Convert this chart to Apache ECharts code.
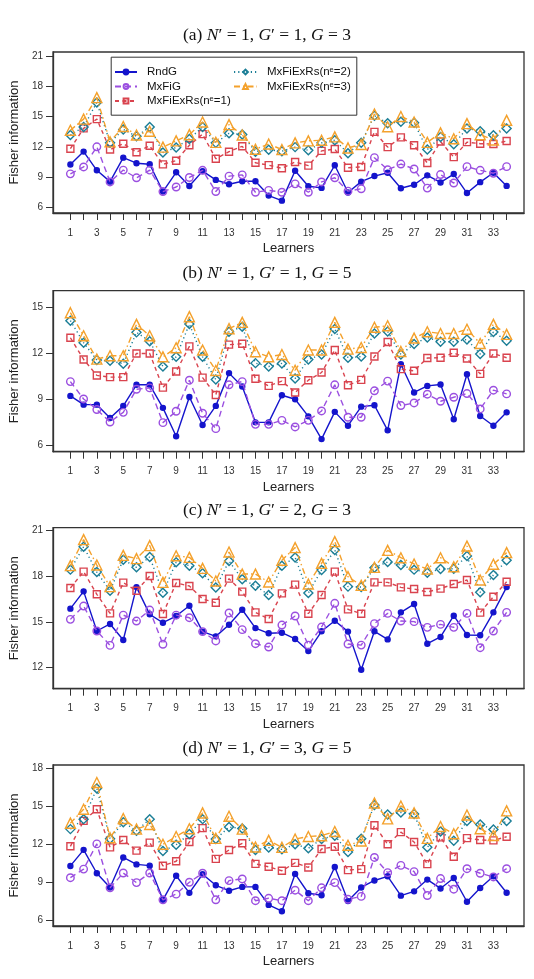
<!DOCTYPE html>
<html lang="en">
<head>
    <meta charset="UTF-8">
    <title>Fisher information of learners</title>
    <script src="https://cdn.jsdelivr.net/npm/echarts@6/dist/echarts.min.js"></script>
</head>
<body style="margin:0;background:#fff;">
<div id="mybox" style="height: 979px;width: 534px;"></div>
<script>
    // learners on the x axis, ticks every learner, labels on odd ones
    var learners = [1,2,3,4,5,6,7,8,9,10,11,12,13,14,15,16,17,18,19,20,21,22,23,24,25,26,27,28,29,30,31,32,33,34];
    var xTickLabels = [1,3,5,7,9,11,13,15,17,19,21,23,25,27,29,31,33];

    // (a) N'=1, G'=1, G=3
    var rndgA  = [10.28,11.55,9.7,8.58,10.95,10.4,10.3,7.6,9.5,8.15,9.62,8.75,8.32,8.62,8.62,7.2,6.7,9.65,8.12,7.96,10.2,7.5,8.58,9.13,9.46,7.93,8.27,9.2,8.5,9.33,7.45,8.53,9.46,8.16];
    var mxfigA = [9.35,10.03,12.02,8.55,9.72,8.96,9.72,7.6,8.05,8.99,9.7,7.6,9.12,9.25,7.53,7.72,7.53,8.36,7.53,8.55,8.96,7.64,7.87,10.95,9.75,10.32,9.83,7.94,9.28,8.44,10.06,9.7,9.41,10.06];
    var rs1A   = [11.83,13.84,14.76,11.75,12.33,11.49,12.12,10.29,10.65,12.17,13.27,10.84,11.54,12.07,10.44,10.21,9.9,10.52,10.16,11.62,11.8,9.95,10.03,13.5,11.99,12.95,12.17,10.42,12.54,11.0,12.48,12.33,12.3,12.59];
    var rs2A   = [13.19,13.98,16.41,12.43,13.74,13.06,13.98,11.46,11.96,12.8,13.98,12.41,13.35,13.24,11.54,11.73,11.59,11.99,11.67,12.41,12.67,11.39,12.43,15.1,14.34,14.5,14.39,11.75,13.0,12.27,13.84,13.56,13.16,13.84];
    var rs3A   = [13.66,14.76,16.88,12.51,14.03,13.19,13.56,11.99,12.61,13.22,14.47,12.46,14.21,13.19,11.78,12.3,11.75,12.41,12.61,12.67,13.0,11.91,12.25,15.25,14.0,15.02,14.47,12.46,13.4,12.82,14.31,13.22,12.69,14.63];

    // (b) N'=1, G'=1, G=5
    var rndgB  = [9.24,8.67,8.67,7.8,8.59,9.96,9.96,8.46,6.61,9.17,7.35,8.59,10.72,9.85,7.52,7.52,9.28,9.02,7.91,6.43,8.2,7.3,8.54,8.63,7.0,11.3,9.46,9.89,9.98,7.72,10.65,7.93,7.3,8.17];
    var mxfigB = [10.17,9.04,8.35,7.54,8.17,9.67,9.76,7.5,8.24,10.26,8.11,7.11,9.96,10.17,7.39,7.39,7.65,7.22,7.65,8.26,9.96,7.85,7.85,9.57,10.2,8.61,8.78,9.35,8.89,9.15,9.39,8.39,9.61,9.37];
    var rs1B   = [13.02,11.61,10.57,10.46,10.46,12.0,12.0,9.78,10.83,12.46,10.43,9.3,12.57,12.63,10.35,9.89,10.2,9.46,10.26,10.76,12.22,9.93,10.28,11.8,12.74,10.98,10.87,11.7,11.72,12.04,11.67,10.67,12.0,11.72];
    var rs2B   = [14.13,12.7,11.57,11.52,11.33,13.37,12.8,11.15,11.78,13.91,11.78,10.3,13.41,13.74,11.37,11.15,11.35,10.37,11.61,11.93,13.59,11.72,11.8,13.3,13.43,11.93,12.61,13.04,12.76,12.76,12.91,11.96,13.39,12.83];
    var rs3B   = [14.65,13.15,11.63,11.85,11.85,13.89,13.15,11.78,12.37,14.39,12.22,10.89,13.61,14.02,12.11,11.78,11.93,10.91,12.22,12.22,14.02,12.28,12.39,13.7,13.8,12.13,13.0,13.41,13.3,13.3,13.57,12.65,13.89,13.24];

    // (c) N'=1, G'=2, G=3
    var rndgC  = [15.86,16.99,14.4,14.86,13.81,17.27,15.49,14.94,15.38,16.05,14.36,14.05,14.81,15.79,14.59,14.25,14.29,13.88,13.09,14.38,15.07,14.36,11.87,14.38,13.85,15.62,16.16,13.57,14.01,15.4,14.14,14.12,15.62,17.27];
    var mxfigC = [15.16,16.03,14.4,13.46,15.44,15.05,15.77,13.53,15.44,15.27,14.36,13.75,15.58,14.49,13.57,13.35,14.79,15.38,13.48,14.66,16.21,13.55,13.48,14.88,15.55,15.05,15.01,14.64,14.83,14.64,15.55,13.31,14.4,15.62];
    var rs1C   = [17.21,18.28,16.8,15.55,17.56,17.03,17.99,15.51,17.54,17.34,16.49,16.25,17.82,16.97,15.62,15.18,16.86,17.43,15.53,16.75,18.28,15.81,15.53,17.58,17.58,17.25,17.14,16.95,17.17,17.47,17.73,15.6,16.64,17.62];
    var rs2C   = [18.41,19.91,18.25,17.03,19.06,18.56,19.24,16.9,18.89,18.67,18.17,17.25,18.97,17.78,17.36,16.75,18.67,19.21,16.88,18.39,19.69,17.3,17.27,18.54,18.91,18.71,18.41,18.21,18.45,18.47,19.3,16.93,18.06,19.02];
    var rs3C   = [18.67,20.37,18.71,17.3,19.34,19.13,19.98,17.58,19.32,19.21,18.49,17.67,19.56,18.12,18.12,17.6,19.02,19.85,17.47,18.82,20.24,17.95,17.38,18.56,19.67,19.19,18.78,18.45,19.19,18.6,19.95,17.73,18.76,19.52];

    // (d) N'=1, G'=3, G=5 (same curves as (a))
    var rndgD  = rndgA.slice();
    var mxfigD = mxfigA.slice();
    var rs1D   = rs1A.slice();
    var rs2D   = rs2A.slice();
    var rs3D   = rs3A.slice();

    // y tick labels of each panel
    var yTicksA = [6,9,12,15,18,21];
    var yTicksB = [6,9,12,15];
    var yTicksC = [12,15,18,21];
    var yTicksD = [6,9,12,15,18];

    var names = ['RndG','MxFiG','MxFiExRs(ne=1)','MxFiExRs(ne=2)','MxFiExRs(ne=3)'];

    var looks = [
        {color:'#1414cc', symbol:'circle',   size:5,  line:'solid',      fill:'#1414cc'},
        {color:'#9b4fe0', symbol:'circle',   size:7.5,line:[6,4],        fill:'rgba(0,0,0,0)'},
        {color:'#d9434e', symbol:'rect',     size:7,  line:[4,3.5],      fill:'rgba(0,0,0,0)'},
        {color:'#1b7e96', symbol:'diamond',  size:9,  line:[1.2,3],      fill:'rgba(0,0,0,0)'},
        {color:'#f4a12c', symbol:'triangle', size:10, line:[6,3,1.5,3],  fill:'rgba(0,0,0,0)'}
    ];

    var panels = [
        {title:'a', np:'1', gp:'1', g:'3', top:52,    min:5.48,  max:21.39, ticks:yTicksA, sets:[rndgA,mxfigA,rs1A,rs2A,rs3A]},
        {title:'b', np:'1', gp:'1', g:'5', top:290.7, min:5.61,  max:16.08, ticks:yTicksB, sets:[rndgB,mxfigB,rs1B,rs2B,rs3B]},
        {title:'c', np:'1', gp:'2', g:'3', top:527.7, min:10.63, max:21.15, ticks:yTicksC, sets:[rndgC,mxfigC,rs1C,rs2C,rs3C]},
        {title:'d', np:'1', gp:'3', g:'5', top:765,   min:5.53,  max:18.26, ticks:yTicksD, sets:[rndgD,mxfigD,rs1D,rs2D,rs3D]}
    ];

    var axisFont = 'Liberation Sans';
    var titles = [], grids = [], xAxes = [], yAxes = [], series = [];

    panels.forEach(function (p, k) {
        titles.push({
            left:'center', top:p.top - 31,
            text:'{n|(' + p.title + ') }{i|N}{n|′ = ' + p.np + ', }{i|G}{n|′ = ' + p.gp + ', }{i|G}{n| = ' + p.g + '}',
            textStyle:{
                rich:{
                    n:{fontFamily:'Liberation Serif', fontSize:17.5, fontWeight:'normal', color:'#111'},
                    i:{fontFamily:'Liberation Serif', fontSize:17.5, fontWeight:'normal', fontStyle:'italic', color:'#111'}
                }
            }
        });
        grids.push({
            left:46.7, top:p.top, width:477.3, height:161,
            show:true, borderColor:'#333', borderWidth:1.3, backgroundColor:'rgba(0,0,0,0)'
        });
        xAxes.push({
            gridIndex:k, type:'value', min:-0.314, max:35.314,
            axisLine:{show:true, onZero:false, lineStyle:{color:'#333', width:1.3}},
            splitLine:{show:false},
            axisTick:{show:true, length:7, customValues:learners, lineStyle:{color:'#333', width:1}},
            axisLabel:{customValues:xTickLabels, margin:15, color:'#333', fontSize:10, fontFamily:axisFont},
            name:'Learners', nameLocation:'middle', nameGap:29,
            nameTextStyle:{fontSize:13, color:'#222', fontFamily:axisFont}
        });
        yAxes.push({
            gridIndex:k, type:'value', min:p.min, max:p.max,
            axisLine:{show:true, onZero:false, lineStyle:{color:'#333', width:1.3}},
            splitLine:{show:false},
            axisTick:{show:true, length:7, customValues:p.ticks, lineStyle:{color:'#333', width:1}},
            axisLabel:{customValues:p.ticks, margin:10, color:'#333', fontSize:10, fontFamily:axisFont},
            name:'Fisher information', nameLocation:'middle', nameGap:25,
            nameTextStyle:{fontSize:13, color:'#222', fontFamily:axisFont}
        });
        p.sets.forEach(function (vals, j) {
            var lk = looks[j];
            series.push({
                name:names[j], type:'line', xAxisIndex:k, yAxisIndex:k,
                data:learners.map(function (l, i) { return [l, vals[i]]; }),
                symbol:lk.symbol, symbolSize:lk.size, showAllSymbol:true,
                lineStyle:{color:lk.color, width:1.4, type:lk.line},
                itemStyle:{color:lk.fill, borderColor:lk.color, borderWidth:1.4},
                emphasis:{disabled:true},
                z:2 + j
            });
        });
    });

    function legendText(name) {
        var m = name.match(/^(.*\(n)e(=\d\))$/);
        if (m) return '{t|' + m[1] + '}{s|e}{t|' + m[2] + '}';
        return '{t|' + name + '}';
    }
    var legendTextStyle = {
        padding:[0,0,0,5],
        rich:{
            t:{fontSize:11.5, fontFamily:axisFont, color:'#111', lineHeight:12},
            s:{fontSize:7.5, fontFamily:axisFont, color:'#111', verticalAlign:'top', lineHeight:12, padding:[0,0,4,0]}
        }
    };

    var mychart = echarts.init(document.getElementById('mybox'));
    mychart.setOption({
        animation:false,
        backgroundColor:'#fff',
        title:titles,
        grid:grids,
        xAxis:xAxes,
        yAxis:yAxes,
        legend:[
            {data:names.slice(0,3), orient:'vertical', left:114, top:66, padding:0, itemGap:2.5,
             itemWidth:22, itemHeight:6, formatter:legendText, textStyle:legendTextStyle, selectedMode:false},
            {data:names.slice(3), orient:'vertical', left:233, top:66, padding:0, itemGap:2.5,
             itemWidth:23, itemHeight:6, formatter:legendText, textStyle:legendTextStyle, selectedMode:false}
        ],
        graphic:[{
            type:'rect', left:110.7, top:56.7, z:10, silent:true,
            shape:{width:245.6, height:58},
            style:{fill:'rgba(0,0,0,0)', stroke:'#333', lineWidth:1}
        }],
        series:series
    });
</script>
</body>
</html>
